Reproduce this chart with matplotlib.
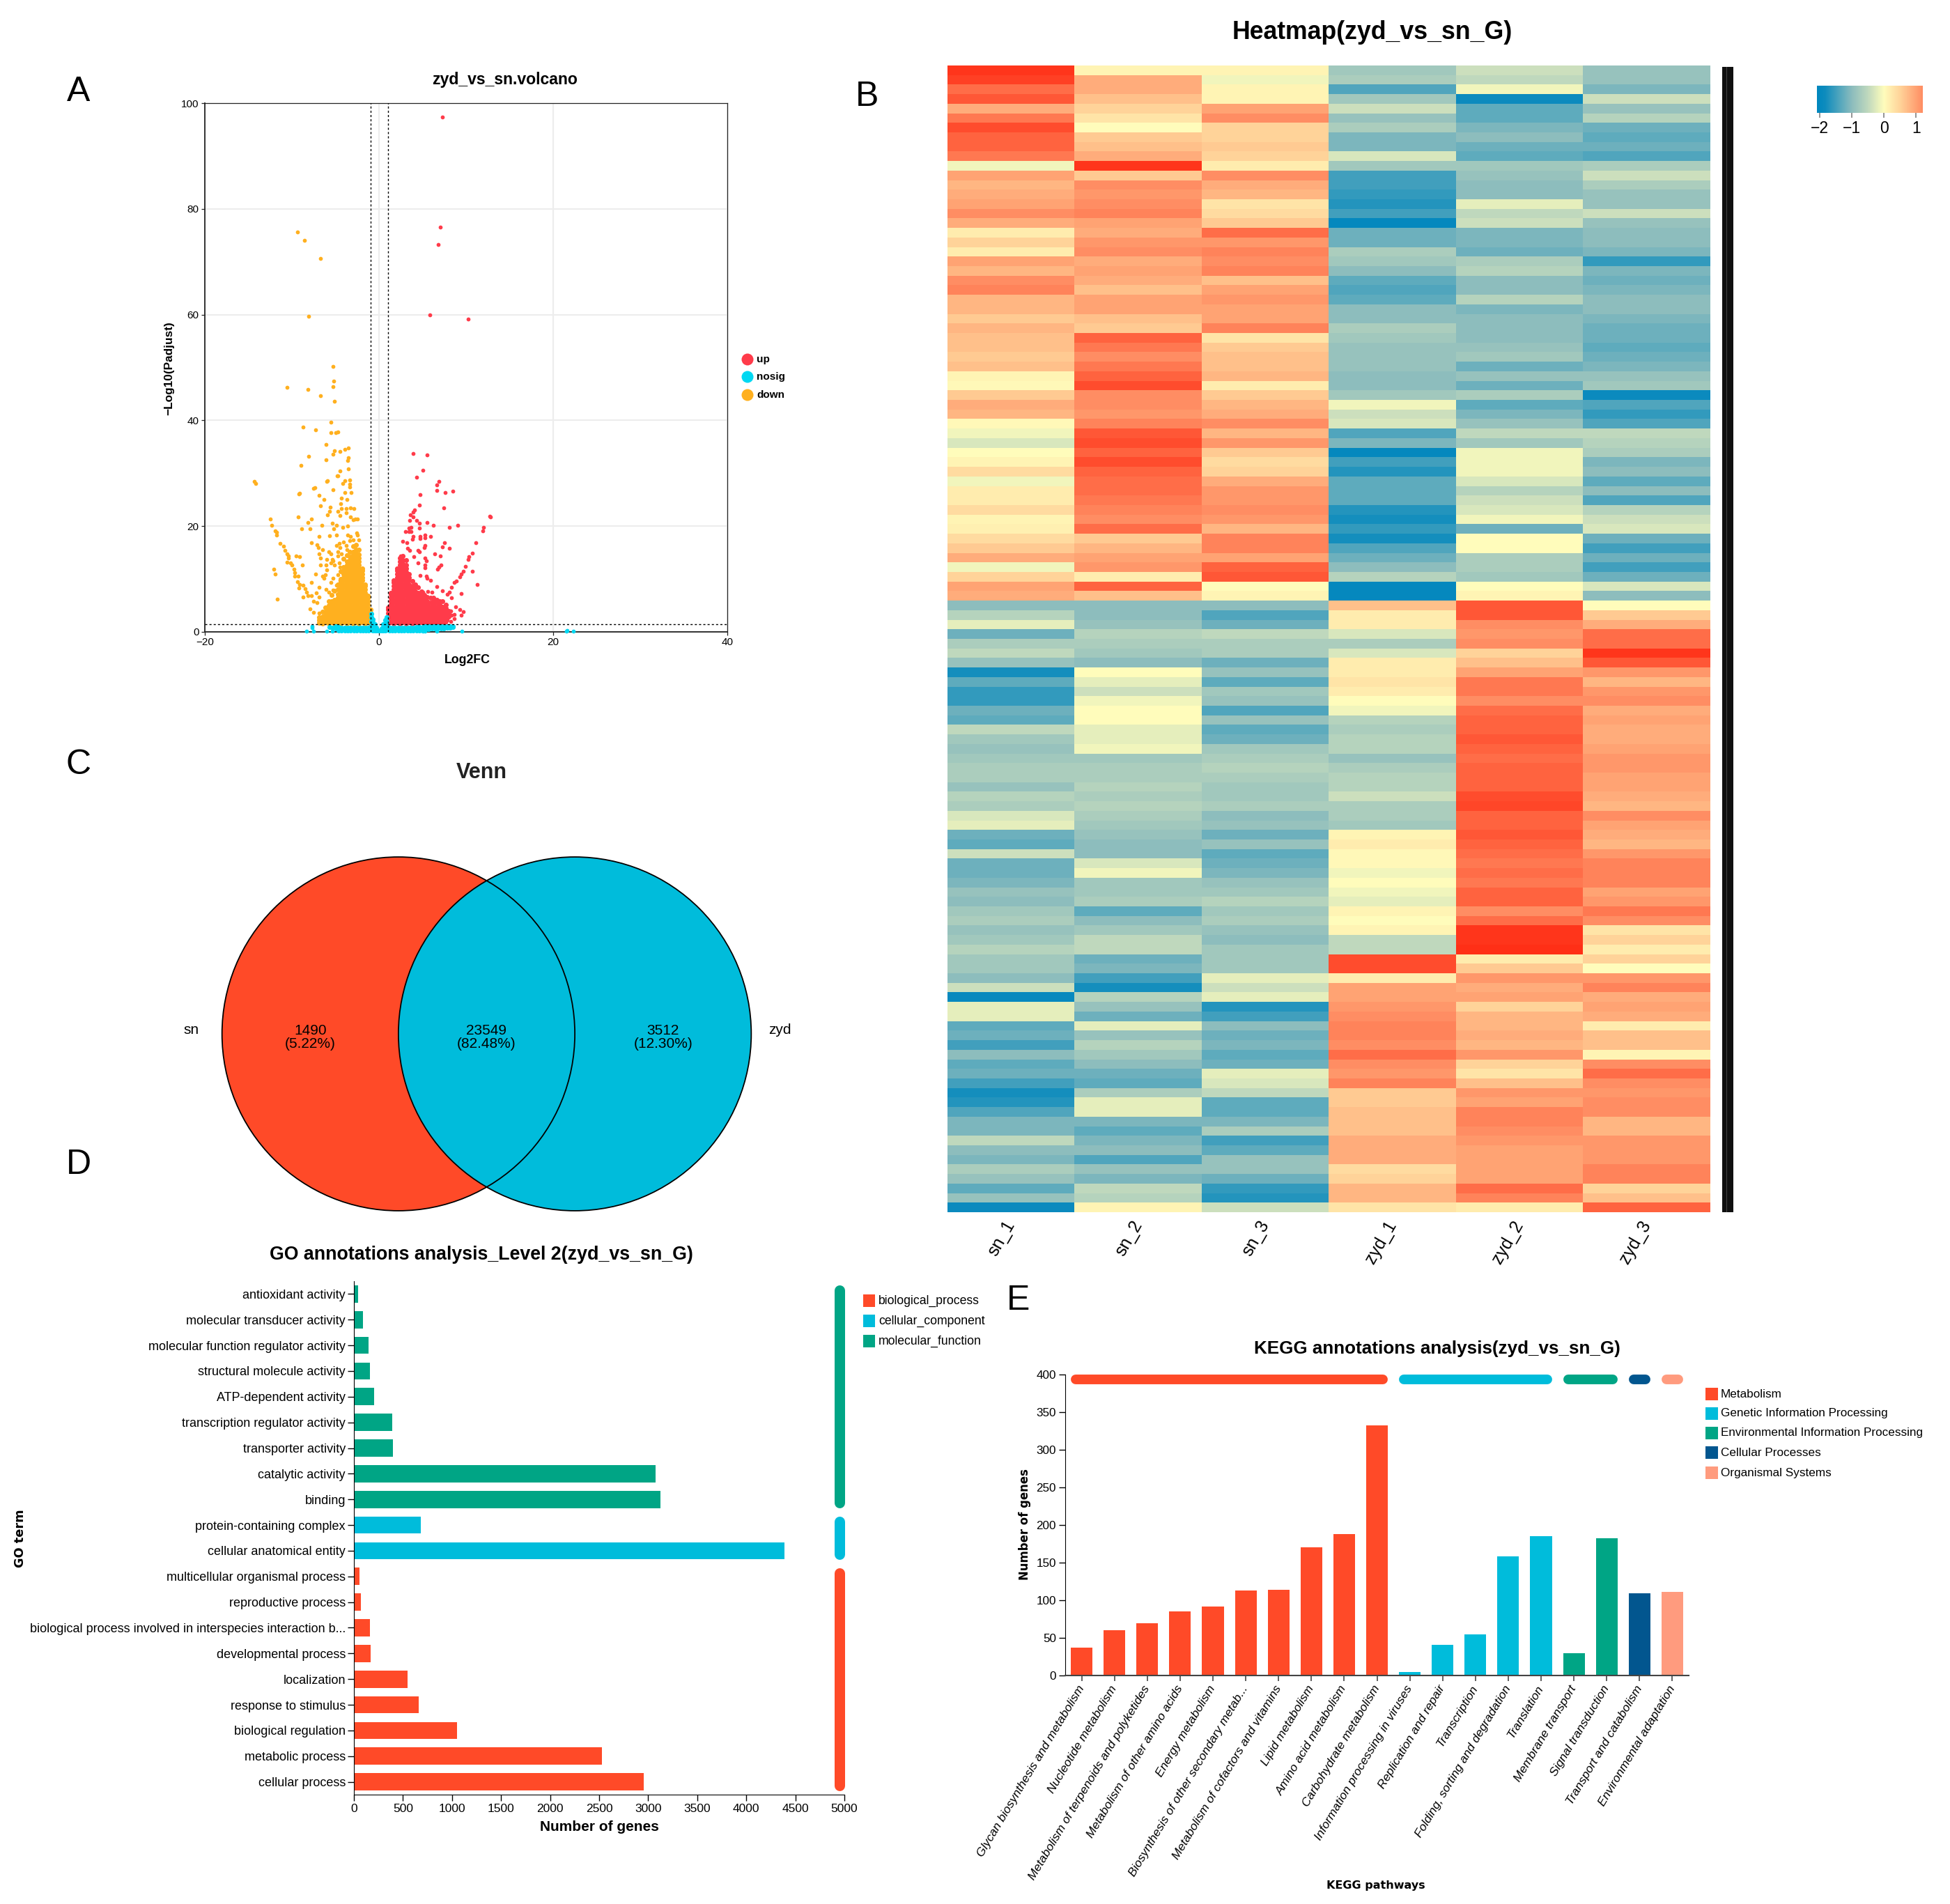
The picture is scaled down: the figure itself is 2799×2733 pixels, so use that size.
"""Five panel RNA-seq figure: volcano, heatmap, Venn, GO and KEGG annotation bars."""
import numpy as np
import matplotlib
matplotlib.use('Agg')
import matplotlib.pyplot as plt
import matplotlib.colors as mc
from matplotlib.patches import Circle, Rectangle

plt.rcParams['font.family'] = ['Liberation Sans', 'DejaVu Sans']

W, H = 2799, 2733

RED = '#FF4A28'
CYAN = '#00BCDB'
GREEN = '#00A585'
NAVY = '#02568F'
SALMON = '#FF9B7E'

# ---- volcano: sparse points read one by one (log2fc, -log10 padj)
UP_POINTS = [
    (7.3, 97.3), (7.0, 76.5), (6.8, 73.3), (5.8, 59.9), (10.2, 59.2), (3.9, 33.7), (5.5, 33.4), (5.0, 30.6),
    (4.3, 29.3), (6.9, 28.5), (6.6, 27.8), (6.6, 26.7), (7.6, 26.4), (8.5, 26.6), (4.7, 25.9), (4.6, 24.0),
    (7.4, 23.4), (4.1, 23.1), (3.9, 22.7), (3.6, 22.1), (12.7, 21.9), (12.8, 21.7), (4.3, 21.1), (3.5, 21.1),
    (3.9, 21.8), (5.5, 20.7), (6.2, 20.2), (9.0, 20.1), (8.1, 19.7), (4.6, 20.5), (4.6, 19.6), (3.7, 19.7),
    (3.4, 19.6), (3.0, 19.0), (3.4, 19.0), (3.7, 19.0), (12.0, 19.7), (11.9, 19.1), (11.1, 16.8), (3.9, 18.0),
    (3.8, 17.5), (4.7, 18.0), (4.7, 17.7), (5.3, 18.3), (5.3, 17.8), (5.9, 18.0), (7.5, 16.9), (2.7, 17.1),
    (3.2, 16.9), (5.3, 16.3), (5.2, 15.9), (7.3, 16.1), (8.1, 15.8), (3.3, 15.8), (3.5, 15.4), (4.5, 15.4),
    (4.6, 15.2), (10.7, 14.9), (6.4, 14.8), (7.0, 14.3), (2.5, 14.4), (4.0, 14.2), (10.3, 14.2), (10.2, 13.7),
    (5.3, 13.9), (5.4, 13.4), (4.5, 13.0), (5.3, 12.6), (5.3, 12.1), (7.1, 12.6), (6.9, 12.2), (6.7, 11.9),
    (9.9, 12.4), (9.7, 11.5), (9.4, 11.0), (10.7, 11.4), (4.7, 10.7), (5.4, 10.6), (5.5, 10.1), (5.9, 9.7),
    (9.3, 10.4), (8.9, 9.6), (8.6, 9.3), (11.3, 9.0), (6.6, 8.6), (8.3, 8.4), (7.3, 7.8), (9.4, 7.3),
    (8.1, 7.5), (7.8, 7.1), (8.3, 6.4), (6.1, 7.5), (5.6, 7.6), (5.0, 7.5), (8.8, 4.8), (9.3, 4.2),
    (9.7, 3.8), (9.4, 3.1), (8.2, 4.0), (8.3, 3.1), (8.6, 3.3), (7.9, 3.1), (7.8, 2.2), (8.6, 2.5),
    (8.2, 2.0), (7.7, 1.8),
]
DOWN_POINTS = [
    (-9.4, 75.6), (-8.6, 74.1), (-6.7, 70.6), (-8.1, 59.7), (-5.3, 50.2), (-5.2, 47.4), (-5.3, 46.4), (-10.6, 46.2),
    (-8.2, 45.8), (-6.7, 44.6), (-5.1, 43.6), (-5.5, 39.7), (-8.7, 38.7), (-7.3, 38.2), (-5.5, 37.7), (-5.0, 37.7),
    (-4.7, 37.8), (-6.1, 35.4), (-3.5, 34.8), (-3.9, 34.5), (-4.5, 34.1), (-5.1, 34.2), (-5.3, 33.6), (-8.1, 33.2),
    (-3.5, 32.9), (-3.6, 32.4), (-6.1, 32.5), (-9.0, 31.5), (-3.5, 30.8), (-4.5, 30.5), (-4.8, 29.5), (-6.0, 28.5),
    (-9.2, 26.1), (-7.5, 27.2), (-14.3, 28.5), (-14.2, 28.0), (-12.5, 21.4), (-12.3, 20.1), (-11.9, 19.1), (-11.8, 18.8),
    (-11.8, 18.3), (-11.4, 16.7), (-11.0, 16.2), (-10.8, 15.4), (-10.6, 14.8), (-10.4, 14.4), (-10.4, 13.9), (-10.6, 13.2),
    (-10.2, 13.0), (-10.0, 12.6), (-9.8, 11.9), (-9.7, 11.2), (-9.7, 10.5), (-9.3, 10.6), (-9.4, 9.5), (-9.1, 8.9),
    (-8.7, 8.8), (-8.5, 8.2), (-9.2, 8.3), (-8.3, 7.5), (-8.2, 6.8), (-7.8, 6.9), (-8.7, 6.6), (-7.5, 5.8),
    (-7.9, 4.4), (-7.1, 5.5), (-7.5, 3.7), (-6.9, 3.6), (-11.7, 6.2), (-12.1, 11.8), (-11.9, 11.0), (-9.5, 14.3),
    (-9.1, 14.2), (-8.8, 12.7), (-7.8, 9.3), (-7.3, 11.0), (-6.9, 8.4), (-7.2, 7.4), (-6.9, 6.6), (-6.1, 8.1),
    (-6.5, 10.6), (-6.2, 10.8), (-6.0, 11.7), (-6.7, 12.6), (-6.1, 12.6), (-5.4, 13.7), (-6.0, 13.7), (-6.7, 13.9),
    (-6.9, 14.8), (-6.5, 15.6), (-7.1, 16.5), (-7.0, 16.0), (-7.8, 16.9), (-6.9, 18.0), (-5.7, 18.2), (-4.9, 18.3),
    (-8.9, 19.5), (-7.9, 19.5), (-8.2, 20.7), (-7.8, 21.4), (-9.3, 21.8), (-6.6, 20.2), (-5.4, 20.6), (-4.9, 20.2),
    (-5.2, 19.5), (-4.2, 19.8), (-3.6, 20.0), (-2.7, 21.3), (-2.5, 21.3), (-3.0, 21.2), (-3.3, 21.8), (-5.9, 22.1),
    (-5.7, 22.8), (-5.6, 23.6), (-6.7, 23.8), (-4.7, 22.8), (-4.5, 22.0), (-3.8, 22.5), (-4.3, 23.3), (-3.8, 23.3),
    (-3.3, 23.4), (-2.9, 23.3), (-6.3, 25.0), (-6.9, 25.8), (-9.1, 26.2), (-5.3, 26.9), (-7.4, 27.3), (-5.9, 28.6),
    (-4.7, 29.5), (-3.9, 26.4), (-3.2, 26.3), (-3.7, 25.0), (-4.3, 25.3), (-4.4, 24.3), (-3.4, 28.7), (-3.9, 28.6),
    (-4.2, 28.1), (-3.4, 27.9), (-3.4, 27.4), (-3.6, 18.3), (-3.3, 18.0), (-3.4, 17.2), (-3.0, 17.4), (-2.6, 18.7),
    (-2.5, 18.3), (-2.3, 17.4), (-4.1, 17.0), (-4.6, 16.7), (-4.9, 16.3), (-4.5, 15.9), (-3.8, 16.3), (-3.7, 15.6),
    (-4.7, 15.2), (-4.3, 14.8), (-4.6, 13.0), (-5.1, 12.6), (-5.5, 13.0), (-5.3, 13.4), (-5.8, 15.2), (-5.5, 14.8),
    (-4.7, 14.3), (-4.5, 12.3), (-4.7, 10.8), (-5.3, 10.1), (-5.5, 9.3), (-6.3, 10.1), (-4.9, 8.8), (-4.5, 9.7),
    (-5.8, 7.5), (-5.3, 7.9),
]
NOSIG_POINTS = [
    (-8.3, 0.1), (-7.5, 0.1), (-7.7, 1.1), (-7.7, 0.8), (-6.0, 0.1), (-5.4, 0.1), (5.0, 0.1), (5.3, 0.1),
    (6.6, 0.1), (9.5, 0.1), (21.5, 0.1), (21.6, 0.2), (22.3, 0.1),
]

# ---- volcano: crowded parts, one list of y values per log2fc column
UP_COLUMN_X = [1.05, 1.35, 1.7, 2.05, 2.4, 2.75, 3.1, 3.45, 3.8, 4.15, 4.5, 4.85, 5.2, 5.55, 5.9, 6.25, 6.6, 6.95, 7.3, 7.65, 8.0]
UP_COLUMN_Y = [
    [1.6, 2.2, 2.9, 3.5, 4.2, 4.6],
    [1.9, 2.5, 3.2, 3.8, 4.5, 5.1, 5.8, 6.4, 7.1, 7.4],
    [1.6, 2.2, 2.9, 3.5, 4.2, 4.8, 5.5, 6.1, 6.8, 7.4, 8.1, 8.7, 9.4, 9.8],
    [1.9, 2.5, 3.2, 3.8, 4.5, 5.1, 5.8, 6.4, 7.1, 7.7, 8.4, 9.0, 9.7, 10.3, 11.0, 11.6, 12.0],
    [1.6, 2.2, 2.9, 3.5, 4.2, 4.8, 5.5, 6.1, 6.8, 7.4, 8.1, 8.7, 9.4, 10.0, 10.7, 11.3, 12.0, 12.6, 13.3, 13.9],
    [1.9, 2.5, 3.2, 3.8, 4.5, 5.1, 5.8, 6.4, 7.1, 7.7, 8.4, 9.0, 9.7, 10.3, 11.0, 11.6, 12.3, 12.9, 13.6, 14.4],
    [1.6, 2.2, 2.9, 3.5, 4.2, 4.8, 5.5, 6.1, 6.8, 7.4, 8.1, 8.7, 9.4, 10.0, 10.7, 11.3, 12.0, 12.6, 13.6],
    [1.9, 2.5, 3.2, 3.8, 4.5, 5.1, 5.8, 6.4, 7.1, 7.7, 8.4, 9.0, 9.7, 10.3, 11.0],
    [1.6, 2.2, 2.9, 3.5, 4.2, 4.8, 5.5, 6.1, 6.8, 7.4, 8.1, 8.7, 9.6],
    [1.9, 2.5, 3.2, 3.8, 4.5, 5.1, 5.8, 6.4, 7.1, 7.7, 8.4, 9.0],
    [1.6, 2.2, 2.9, 3.5, 4.2, 4.8, 5.5, 6.1, 6.8, 7.4, 8.4],
    [1.9, 2.5, 3.2, 3.8, 4.5, 5.1, 5.8, 6.4, 7.1, 7.6],
    [1.6, 2.2, 2.9, 3.5, 4.2, 4.8, 5.5, 6.1, 7.0],
    [1.9, 2.5, 3.2, 3.8, 4.5, 5.1, 5.8, 6.6],
    [1.6, 2.2, 2.9, 3.5, 4.2, 4.8, 5.5, 6.4],
    [1.9, 2.5, 3.2, 3.8, 4.5, 5.1, 5.8, 6.4],
    [1.6, 2.2, 2.9, 3.5, 4.2, 4.8, 5.5, 6.0],
    [1.9, 2.5, 3.2, 3.8, 4.5, 5.1, 5.8],
    [1.6, 2.2, 2.9, 3.5, 4.2, 4.8, 5.8],
    [2.1, 2.7, 3.2, 3.8, 4.5, 5.2],
    [2.9, 3.5, 4.0],
]
DOWN_COLUMN_X = [-0.95, -1.25, -1.6, -1.95, -2.3, -2.65, -3.0, -3.35, -3.7, -4.05, -4.4, -4.75, -5.1, -5.45, -5.8, -6.15, -6.5, -6.85]
DOWN_COLUMN_Y = [
    [1.6, 2.2, 2.9, 3.5, 4.2],
    [1.9, 2.5, 3.2, 3.8, 4.5, 5.1, 5.8, 6.4, 6.8],
    [1.6, 2.2, 2.9, 3.5, 4.2, 4.8, 5.5, 6.1, 6.8, 7.4, 8.1, 8.7, 9.0],
    [1.9, 2.5, 3.2, 3.8, 4.5, 5.1, 5.8, 6.4, 7.1, 7.7, 8.4, 9.0, 9.7, 10.3, 11.0, 11.6, 12.0],
    [1.6, 2.2, 2.9, 3.5, 4.2, 4.8, 5.5, 6.1, 6.8, 7.4, 8.1, 8.7, 9.4, 10.0, 10.7, 11.3, 12.0, 12.6, 13.3, 13.9, 14.6, 15.5],
    [1.9, 2.5, 3.2, 3.8, 4.5, 5.1, 5.8, 6.4, 7.1, 7.7, 8.4, 9.0, 9.7, 10.3, 11.0, 11.6, 12.3, 12.9, 13.6, 14.2, 14.9, 15.5, 16.5],
    [1.6, 2.2, 2.9, 3.5, 4.2, 4.8, 5.5, 6.1, 6.8, 7.4, 8.1, 8.7, 9.4, 10.0, 10.7, 11.3, 12.0, 12.6, 13.3, 13.9, 14.6, 15.2, 16.2],
    [1.9, 2.5, 3.2, 3.8, 4.5, 5.1, 5.8, 6.4, 7.1, 7.7, 8.4, 9.0, 9.7, 10.3, 11.0, 11.6, 12.3, 12.9, 13.6, 14.2, 15.2],
    [1.6, 2.2, 2.9, 3.5, 4.2, 4.8, 5.5, 6.1, 6.8, 7.4, 8.1, 8.7, 9.4, 10.0, 10.7, 11.3, 12.0, 12.6, 13.3, 14.5],
    [1.9, 2.5, 3.2, 3.8, 4.5, 5.1, 5.8, 6.4, 7.1, 7.7, 8.4, 9.0, 9.7, 10.3, 11.0, 11.6, 12.3, 13.8],
    [1.6, 2.2, 2.9, 3.5, 4.2, 4.8, 5.5, 6.1, 6.8, 7.4, 8.1, 8.7, 9.4, 10.0, 11.5],
    [1.9, 2.5, 3.2, 3.8, 4.5, 5.1, 5.8, 6.4, 7.1, 8.0, 9.0],
    [1.6, 2.2, 2.9, 3.5, 4.2, 4.8, 5.5, 6.1, 7.8],
    [1.9, 2.5, 3.2, 3.8, 4.5, 5.1, 5.8, 7.0],
    [1.6, 2.2, 2.9, 3.5, 4.2, 5.0, 5.8],
    [1.9, 2.5, 3.2, 3.8, 4.6],
    [1.6, 2.2, 2.9, 3.8],
    [1.7, 2.3, 2.8],
]
NOSIG_COLUMN_X = [-5.7, -5.35, -5.0, -4.65, -4.3, -3.95, -3.6, -3.25, -2.9, -2.55, -2.2, -1.85, -1.5, -1.2, -0.9, -0.7, -0.5, -0.3,
                  -0.1, 0.1, 0.3, 0.5, 0.7, 0.9, 1.2, 1.5, 1.85, 2.2, 2.55, 2.9, 3.25, 3.6, 3.95, 4.3, 4.65, 5.0, 5.35, 5.7,
                  6.05, 6.4, 6.75, 7.1, 7.45, 7.8, 8.15, 8.5]
NOSIG_COLUMN_Y = [
    [0.9], [0.8], [0.6, 1.1], [0.3, 0.9], [0.2, 0.8], [0.2, 0.8], [0.2, 0.8], [0.2, 0.8], [0.2, 0.8], [0.2, 0.8], [0.2, 0.8], [0.2, 0.8],
    [0.2, 0.8], [0.2, 0.8], [0.4, 1.2, 2.0, 2.8, 3.4], [0.3, 1.0, 1.8, 2.4], [0.3, 1.0, 1.5], [0.2, 0.8], [0.2], [0.2], [0.2, 0.7],
    [0.3, 0.9, 1.4], [0.3, 1.0, 1.7, 2.3], [0.4, 1.2, 2.0, 2.8], [0.2, 0.8], [0.2, 0.8], [0.2, 0.8], [0.2, 0.8], [0.2, 0.8], [0.2, 0.8],
    [0.2, 0.8], [0.2, 0.8], [0.2, 0.8], [0.3, 0.9], [0.3, 0.9], [0.3, 0.9], [0.5, 1.0], [0.5, 1.0], [0.6, 1.0], [0.6, 1.0], [0.6, 1.0],
    [0.7, 1.1], [0.7, 1.1], [0.8, 1.1], [0.8, 1.1], [0.9, 1.1],
]
VOLCANO_GROUPS = ['up', 'nosig', 'down']
VOLCANO_COLORS = ['#FF3B4A', '#00D8F2', '#FFB01F']

# ---- heatmap: z-scores per row band, top to bottom
HEAT_SAMPLES = ['sn_1', 'sn_2', 'sn_3', 'zyd_1', 'zyd_2', 'zyd_3']
HEAT_SN_1 = [
    2.0, 1.9, 1.5, 1.7, .9, 1.4, 1.8, 1.6, 1.6, 1.4,
    -.1, 1.0, .8, .9, 1.0, 1.2, .9, .2, .5, .2,
    1.0, .8, 1.2, 1.3, .8, .8, .6, .8, .7, .7,
    .6, .7, .1, .05, .6, .9, .8, .05, -.1, -.3,
    0, .1, .4, -.1, .2, .2, .4, .1, .15, .4,
    .6, .9, -.1, .5, 1.0, .9, -1.0, -.6, -.2, -1.2,
    -.7, -.5, -.9, -1.8, -1.3, -1.6, -1.6, -1.2, -1.3, -.5,
    -.8, -.9, -.8, -.7, -.7, -.9, -.6, -.7, -.3, -.2,
    -1.2, -1.3, -.4, -1.2, -1.2, -1.1, -.9, -1.0, -.8, -.7,
    -.9, -.8, -.6, -.8, -.8, -1.0, -.4, -1.95, -.2, -.2,
    -1.3, -1.2, -1.5, -1.0, -1.3, -1.2, -1.5, -1.8, -1.7, -1.4,
    -1.1, -1.1, -.5, -1.0, -1.1, -.7, -.9, -1.3, -.9, -1.9,
]
HEAT_SN_2 = [
    .1, .9, .9, .7, .5, .3, 0, .6, .7, .9,
    2.0, .6, 1.2, 1.1, 1.2, 1.3, 1.0, .9, 1.1, 1.2,
    .9, 1.0, .9, .7, 1.0, 1.0, .7, .6, 1.6, 1.4,
    1.2, 1.4, 1.6, 1.8, 1.2, 1.2, 1.1, 1.3, 1.7, 1.8,
    1.6, 1.8, 1.6, 1.5, 1.5, 1.4, 1.3, 1.2, 1.5, .6,
    .8, 1.0, 1.1, .2, 1.6, .7, -1.0, -1.0, -.9, -.6,
    -.7, -.8, -1.0, 0, -.2, -.4, -.1, 0, 0, -.2,
    -.2, -.1, -.8, -.7, -.7, -.6, -.7, -.6, -.7, -.8,
    -.9, -1.0, -1.0, -.3, -.1, -.8, -.8, -.7, -1.3, -1.0,
    -.8, -.5, -.5, -1.2, -1.1, -1.5, -1.8, -.6, -.9, -1.2,
    -.2, -.9, -.6, -.8, -1.0, -1.2, -1.3, -.7, -.2, -.2,
    -1.1, -1.3, -1.1, -1.0, -1.4, -.9, -1.1, -.5, -.6, .1,
]
HEAT_SN_3 = [
    .1, -.1, .1, .1, 1.0, 1.2, .5, .5, .6, .5,
    .2, 1.2, .9, .8, .3, .4, .6, 1.5, 1.1, 1.3,
    1.2, 1.3, .7, 1.0, 1.1, 1.0, 1.0, 1.3, .3, .6,
    .7, .7, .8, .2, .6, .8, .9, 1.2, .8, 1.1,
    .6, .4, .5, .9, 1.1, 1.1, 1.2, 1.1, .8, 1.3,
    1.3, 1.0, 1.6, 1.7, 0, .1, -1.0, -1.4, -1.2, -.5,
    -.7, -.7, -1.2, -.9, -1.3, -.8, -.9, -1.4, -.9, -1.3,
    -1.2, -.8, -.7, -.6, -.7, -.8, -.8, -.7, -1.0, -.9,
    -1.2, -.9, -1.3, -1.2, -1.1, -.9, -.8, -.6, -.8, -.7,
    -.9, -1.0, -.8, -.8, -.8, -.2, -.4, -.2, -1.7, -1.5,
    -1.0, -1.2, -1.1, -1.3, -1.2, -.2, -.3, -.5, -1.3, -1.3,
    -1.1, -.7, -1.5, -1.3, -.9, -.9, -1.2, -1.6, -1.7, -.4,
]
HEAT_ZYD_1 = [
    -.8, -.7, -1.4, -.8, -.4, -.9, -.7, -1.1, -1.1, -.3,
    -.8, -1.5, -1.5, -1.6, -1.7, -1.5, -2.0, -1.2, -1.2, -.7,
    -.8, -1.0, -1.3, -1.4, -1.3, -1.0, -1.0, -.7, -.8, -.9,
    -.9, -.9, -1.0, -1.0, -.8, -.1, -.4, -.3, -1.4, -1.1,
    -2.0, -1.5, -1.7, -1.3, -1.3, -1.3, -1.7, -1.8, -1.6, -1.8,
    -1.4, -1.2, -1.0, -.6, -2.0, -2.0, .7, .2, .2, -.3,
    -.7, -.3, .2, .2, .3, .2, 0, -.1, -.6, -.7,
    -.6, -.6, -.9, -.7, -.6, -.6, -.4, -.7, -.7, -.8,
    .1, .2, .05, .05, -.1, 0, -.1, -.2, .1, 0,
    .1, -.5, -.5, 1.8, 1.8, .2, 1.0, 1.0, 1.1, 1.2,
    1.3, 1.3, 1.2, 1.5, 1.2, 1.1, 1.3, .6, .6, .7,
    .7, .7, .9, .9, .9, .4, .5, .8, .8, .3,
]
HEAT_ZYD_2 = [
    -.4, -.5, -.1, -1.9, -1.3, -1.3, -1.1, -1.0, -1.2, -1.3,
    -.8, -.9, -1.0, -1.0, -.2, -.5, -.4, -1.1, -1.1, -1.2,
    -.7, -.6, -1.0, -1.0, -.6, -1.1, -1.0, -1.0, -1.0, -.9,
    -.8, -1.2, -.9, -1.2, -.7, -1.3, -1.1, -.9, -.5, -.8,
    -.1, -.1, -.1, -.3, -.6, -.4, -.3, -.1, -1.2, 0,
    0, -.7, -.7, -.8, 0, .1, 1.7, 1.7, 1.2, 1.1,
    1.2, .5, .7, 1.0, 1.4, 1.4, 1.2, 1.5, 1.6, 1.6,
    1.7, 1.6, 1.5, 1.6, 1.6, 1.6, 1.8, 1.85, 1.6, 1.6,
    1.7, 1.6, 1.5, 1.4, 1.5, 1.4, 1.6, 1.6, 1.2, 1.5,
    2.0, 2.0, 2.05, .2, .6, 1.1, .9, 1.0, .5, .8,
    .8, .9, .8, 1.1, .5, .3, .7, 1.1, 1.0, 1.3,
    1.3, 1.2, 1.1, 1.0, 1.0, 1.0, 1.0, 1.5, 1.3, .2,
]
HEAT_ZYD_3 = [
    -.9, -.9, -1.1, -.4, -.9, -.6, -1.2, -1.3, -1.2, -1.4,
    -.7, -.4, -.7, -.9, -.9, -.4, -.9, -1.0, -1.0, -1.1,
    -1.6, -1.1, -1.2, -1.1, -1.0, -1.0, -1.1, -1.2, -1.2, -1.3,
    -1.2, -1.1, -.9, -.8, -1.9, -1.4, -1.6, -1.4, -.5, -.6,
    -.7, -1.1, -1.0, -1.3, -1.0, -1.4, -.6, -.4, -.3, -1.2,
    -1.5, -1.2, -1.5, -1.2, -.3, -1.0, 0, .6, .9, 1.5,
    1.5, 2.0, 1.7, 1.1, .8, 1.1, 1.2, .9, 1.0, .9,
    .9, 1.0, 1.1, 1.1, 1.0, 1.0, .9, .8, 1.2, 1.0,
    .9, .8, 1.1, 1.3, 1.3, 1.3, 1.0, 1.1, 1.4, 1.2,
    .3, .5, .2, .5, 0, 1.1, 1.3, .9, 1.0, .9,
    .2, .7, .7, .1, 1.2, 1.5, 1.2, 1.1, 1.2, 1.2,
    .8, .8, 1.1, 1.1, 1.1, 1.3, 1.3, .5, .7, 1.6,
]
HEAT_TICKS = [-2, -1, 0, 1]

# ---- Venn
VENN_COUNTS = [1490, 23549, 3512]
VENN_PERCENT = [5.22, 82.48, 12.30]

# ---- GO level 2, bottom bar first
GO_TERMS = [
    'cellular process', 'metabolic process', 'biological regulation', 'response to stimulus', 'localization',
    'developmental process', 'biological process involved in interspecies interaction b...', 'reproductive process',
    'multicellular organismal process', 'cellular anatomical entity', 'protein-containing complex', 'binding',
    'catalytic activity', 'transporter activity', 'transcription regulator activity', 'ATP-dependent activity',
    'structural molecule activity', 'molecular function regulator activity', 'molecular transducer activity',
    'antioxidant activity',
]
GO_GENES = [2957, 2530, 1051, 657, 545, 171, 164, 72, 59, 4389, 683, 3127, 3075, 400, 394, 204, 164, 151, 92, 46]
GO_CLASS = [0, 0, 0, 0, 0, 0, 0, 0, 0, 1, 1, 2, 2, 2, 2, 2, 2, 2, 2, 2]
GO_CLASS_NAMES = ['biological_process', 'cellular_component', 'molecular_function']
GO_CLASS_COLORS = [RED, CYAN, GREEN]

# ---- KEGG
KEGG_PATHWAYS = [
    'Glycan biosynthesis and metabolism', 'Nucleotide metabolism', 'Metabolism of terpenoids and polyketides',
    'Metabolism of other amino acids', 'Energy metabolism', 'Biosynthesis of other secondary metab...',
    'Metabolism of cofactors and vitamins', 'Lipid metabolism', 'Amino acid metabolism', 'Carbohydrate metabolism',
    'Information processing in viruses', 'Replication and repair', 'Transcription', 'Folding, sorting and degradation',
    'Translation', 'Membrane transport', 'Signal transduction', 'Transport and catabolism', 'Environmental adaptation',
]
KEGG_GENES = [37, 60, 69, 85, 91.5, 113, 114, 170, 188, 332, 4.5, 41, 55, 158, 185.5, 29.5, 182.5, 109, 111]
KEGG_CLASS = [0, 0, 0, 0, 0, 0, 0, 0, 0, 0, 1, 1, 1, 1, 1, 2, 2, 3, 4]
KEGG_CLASS_NAMES = ['Metabolism', 'Genetic Information Processing', 'Environmental Information Processing',
                    'Cellular Processes', 'Organismal Systems']
KEGG_CLASS_COLORS = [RED, CYAN, GREEN, NAVY, SALMON]

PANEL_LETTERS = ['A', 'B', 'C', 'D', 'E']


def px_axes(fig, x0, y0, x1, y1):
    """Axes from pixel corners, y counted from the top of the picture."""
    return fig.add_axes([x0 / W, 1 - y1 / H, (x1 - x0) / W, (y1 - y0) / H])


def px_text(fig, x, y, s, **kwargs):
    kwargs.setdefault('ha', 'center')
    kwargs.setdefault('va', 'center')
    return fig.text(x / W, 1 - y / H, s, **kwargs)


def flatten_columns(xs, ys):
    out_x, out_y = [], []
    for x, column in zip(xs, ys):
        out_x.extend([x] * len(column))
        out_y.extend(column)
    return out_x, out_y


def plot_volcano(fig, overlay):
    ax = px_axes(fig, 294, 148, 1044, 907)
    ax.set_xlim(-20, 40)
    ax.set_ylim(0, 100)
    ax.set_xticks([-20, 0, 20, 40])
    ax.set_yticks([0, 20, 40, 60, 80, 100])
    ax.grid(True, color='#EDEDED', lw=1.6)
    ax.set_axisbelow(True)
    ax.tick_params(labelsize=11, length=3.6, width=0.9, pad=2.5, color='#222222')
    for side, spine in ax.spines.items():
        spine.set_linewidth(1.3 if side in ('left', 'bottom') else 0.9)
        spine.set_color('#222222')

    # the crowded columns get a fatter dot so the mass closes up as in the original
    for xs, ys, color in ((DOWN_COLUMN_X, DOWN_COLUMN_Y, VOLCANO_COLORS[2]), (UP_COLUMN_X, UP_COLUMN_Y, VOLCANO_COLORS[0])):
        col_x, col_y = flatten_columns(xs, ys)
        ax.scatter(col_x, col_y, s=26, color=color, lw=0, zorder=3)
    ax.scatter(*zip(*DOWN_POINTS), s=17, color=VOLCANO_COLORS[2], lw=0, zorder=3)
    ax.scatter(*zip(*UP_POINTS), s=17, color=VOLCANO_COLORS[0], lw=0, zorder=3)
    nosig_x, nosig_y = flatten_columns(NOSIG_COLUMN_X, NOSIG_COLUMN_Y)
    ax.scatter(nosig_x, nosig_y, s=26, color=VOLCANO_COLORS[1], lw=0, zorder=4, clip_on=False)
    ax.scatter(*zip(*NOSIG_POINTS), s=17, color=VOLCANO_COLORS[1], lw=0, zorder=4, clip_on=False)

    for x in (-1, 1):
        ax.axvline(x, color='k', lw=1.0, dashes=(2.2, 2.2), zorder=5)
    ax.axhline(1.4, color='k', lw=1.0, dashes=(2.2, 2.2), zorder=5)

    px_text(fig, 725, 114, 'zyd_vs_sn.volcano', fontsize=16.6, fontweight='bold')
    px_text(fig, 671, 948, 'Log2FC', fontsize=12.8, fontweight='bold')
    px_text(fig, 243, 529, '\u2212Log10(Padjust)', fontsize=12.4, fontweight='bold', rotation=90)

    for y, name, color in zip((516, 541, 567), VOLCANO_GROUPS, VOLCANO_COLORS):
        overlay.add_patch(Circle((1073, y), 8.5, color=color, lw=0))
        px_text(fig, 1086, y, name, fontsize=11, fontweight='bold', ha='left')


def plot_heatmap(fig, overlay):
    data = np.column_stack([HEAT_SN_1, HEAT_SN_2, HEAT_SN_3, HEAT_ZYD_1, HEAT_ZYD_2, HEAT_ZYD_3])
    low, high = -2.1, 2.1
    anchors = [(-2.1, '#0087BE'), (-1.85, '#0E8CBE'), (-1.0, '#8DBDBD'), (-0.5, '#C0D9BE'), (0.0, '#FFFDBC'),
               (0.5, '#FFD49A'), (1.2, '#FF8F64'), (1.6, '#FF6440'), (2.1, '#FF2A12')]
    cmap = mc.LinearSegmentedColormap.from_list(
        'heat', [((v - low) / (high - low), c) for v, c in anchors])
    norm = mc.Normalize(low, high)

    ax = px_axes(fig, 1360, 94, 2455, 1740)
    ax.imshow(data, aspect='auto', cmap=cmap, norm=norm, interpolation='nearest')
    ax.set_yticks([])
    ax.set_xticks(range(len(HEAT_SAMPLES)))
    ax.set_xticklabels(HEAT_SAMPLES, fontsize=18, rotation=60, ha='right', va='center', rotation_mode='anchor')
    ax.tick_params(axis='x', length=0, pad=10)
    for spine in ax.spines.values():
        spine.set_visible(False)

    # row annotation column, squeezed to a dark strip
    overlay.add_patch(Rectangle((2472, 96), 16, 1644, color='#101010', lw=0))
    overlay.add_patch(Rectangle((2478, 96), 1.5, 1644, color='#444444', lw=0))

    px_text(fig, 1970, 46, 'Heatmap(zyd_vs_sn_G)', fontsize=25.7, fontweight='bold')

    cax = px_axes(fig, 2608, 123, 2760, 162)
    gradient = np.linspace(-2.094, 1.21, 256)[None, :]
    cax.imshow(gradient, aspect='auto', cmap=cmap, norm=norm, extent=[-2.094, 1.21, 0, 1])
    cax.set_yticks([])
    cax.set_xticks(HEAT_TICKS)
    cax.tick_params(axis='x', length=5, width=1.1, color='#777777', labelsize=16.5, pad=3)
    for spine in cax.spines.values():
        spine.set_visible(False)


def plot_venn(fig):
    ax = px_axes(fig, 306, 1225, 1091, 1743)
    ax.set_xlim(-1.55, 1.55)
    ax.set_ylim(-1.02, 1.02)
    ax.axis('off')
    ax.add_patch(Circle((-0.5, 0), 1, facecolor=RED, edgecolor='none'))
    ax.add_patch(Circle((0.5, 0), 1, facecolor=CYAN, edgecolor='none'))
    for x in (-0.5, 0.5):
        ax.add_patch(Circle((x, 0), 1, facecolor='none', edgecolor='k', lw=1.3))
    for x, count, pct in zip((-1, 0, 1), VENN_COUNTS, VENN_PERCENT):
        ax.text(x, -0.02, f'{count}\n({pct:.2f}%)', ha='center', va='center', fontsize=15, linespacing=1.05)
    px_text(fig, 275, 1479, 'sn', fontsize=15)
    px_text(fig, 1119, 1479, 'zyd', fontsize=15)
    px_text(fig, 691, 1109, 'Venn', fontsize=22, fontweight='bold', color='#222222')


def plot_go(fig, overlay):
    ax = px_axes(fig, 508, 1839, 1212, 2576)
    colors = [GO_CLASS_COLORS[c] for c in GO_CLASS]
    positions = np.arange(len(GO_TERMS))
    ax.barh(positions, GO_GENES, height=0.67, color=colors)
    ax.set_xlim(0, 5000)
    ax.set_ylim(-0.5, len(GO_TERMS) - 0.5)
    ax.set_yticks(positions)
    ax.set_yticklabels(GO_TERMS, fontsize=12.95)
    ax.set_xticks(range(0, 5001, 500))
    ax.tick_params(axis='x', labelsize=12.5, pad=3.2)
    ax.tick_params(axis='y', pad=2.2)
    ax.tick_params(axis='both', length=6.5, width=1.0)
    ax.spines[['top', 'right']].set_visible(False)

    for cls, color in enumerate(GO_CLASS_COLORS):
        members = positions[np.array(GO_CLASS) == cls]
        ax.plot([4947, 4947], [members[0] - 0.135, members[-1] + 0.135], color=color, lw=10.8,
                solid_capstyle='round', clip_on=False)

    px_text(fig, 691, 1801, 'GO annotations analysis_Level 2(zyd_vs_sn_G)', fontsize=19.3, fontweight='bold')
    px_text(fig, 860, 2623, 'Number of genes', fontsize=15, fontweight='bold')
    px_text(fig, 29, 2208, 'GO term', fontsize=12.8, fontweight='bold', rotation=90, family='DejaVu Sans')

    for y, name, color in zip((1867, 1896, 1925), GO_CLASS_NAMES, GO_CLASS_COLORS):
        overlay.add_patch(Rectangle((1239, y - 9), 17, 18, color=color, lw=0))
        px_text(fig, 1261, y, name, fontsize=12.7, ha='left')


def plot_kegg(fig, overlay):
    ax = px_axes(fig, 1529, 1973, 2424, 2405)
    colors = [KEGG_CLASS_COLORS[c] for c in KEGG_CLASS]
    positions = np.arange(len(KEGG_PATHWAYS))
    ax.bar(positions, KEGG_GENES, width=0.66, color=colors)
    ax.set_xlim(-0.5, len(KEGG_PATHWAYS) - 0.5)
    ax.set_ylim(0, 400)
    ax.set_yticks(range(0, 401, 50))
    ax.set_xticks(positions)
    ax.set_xticklabels(KEGG_PATHWAYS, rotation=59, ha='right', va='center', rotation_mode='anchor',
                       style='italic', fontsize=12.6)
    ax.tick_params(axis='y', labelsize=12.3, length=6.5, width=1.0, pad=3)
    ax.tick_params(axis='x', length=6, width=1.2, color='#444444', pad=5)
    ax.spines[['top', 'right']].set_visible(False)
    ax.spines['bottom'].set_linewidth(1.5)
    ax.spines['bottom'].set_color('#444444')

    for cls, color in enumerate(KEGG_CLASS_COLORS):
        members = positions[np.array(KEGG_CLASS) == cls]
        ax.plot([members[0] - 0.18, members[-1] + 0.18], [393.5, 393.5], color=color, lw=10,
                solid_capstyle='round', clip_on=False)

    px_text(fig, 2063, 1936, 'KEGG annotations analysis(zyd_vs_sn_G)', fontsize=18.7, fontweight='bold')
    px_text(fig, 1471, 2188, 'Number of genes', fontsize=11.9, fontweight='bold', rotation=90, family='DejaVu Sans')
    px_text(fig, 1975, 2706, 'KEGG pathways', fontsize=11.5, fontweight='bold', family='DejaVu Sans')

    for y, name, color in zip((2001, 2029, 2057, 2085, 2114), KEGG_CLASS_NAMES, KEGG_CLASS_COLORS):
        overlay.add_patch(Rectangle((2448, y - 9), 18, 18, color=color, lw=0))
        px_text(fig, 2470, y, name, fontsize=12.3, ha='left')


fig = plt.figure(figsize=(W / 100, H / 100), dpi=100, facecolor='white')
overlay = fig.add_axes([0, 0, 1, 1])
overlay.set_xlim(0, W)
overlay.set_ylim(H, 0)
overlay.axis('off')

plot_volcano(fig, overlay)
plot_heatmap(fig, overlay)
plot_venn(fig)
plot_go(fig, overlay)
plot_kegg(fig, overlay)

for (x, y), letter in zip([(113, 132), (1245, 139), (113, 1098), (113, 1672), (1462, 1867)], PANEL_LETTERS):
    px_text(fig, x, y, letter, fontsize=36)

fig.savefig('out.png', dpi=100)
plt.close(fig)
